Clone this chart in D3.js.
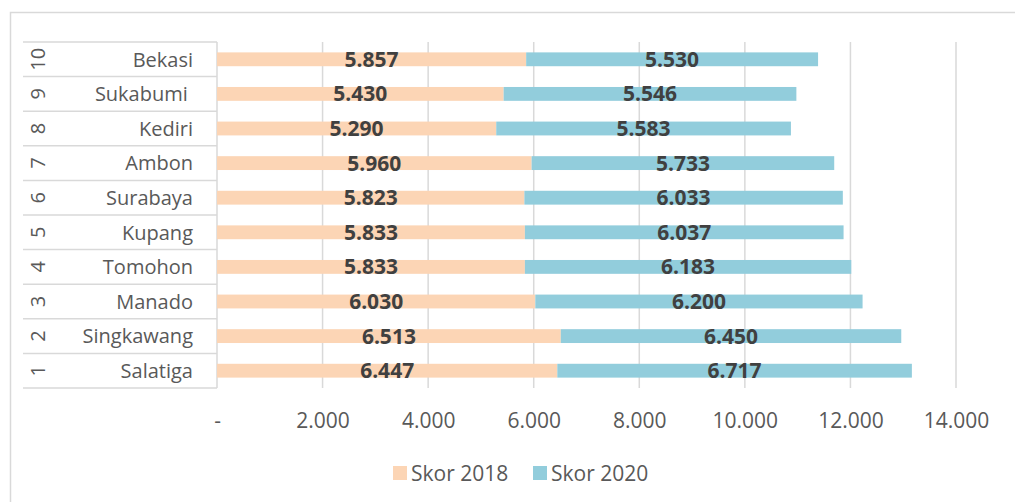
<!DOCTYPE html>
<html>
<head>
<meta charset="utf-8">
<script src="https://cdn.jsdelivr.net/npm/d3@7"></script>
<style>
  html, body { margin: 0; padding: 0; background: #fff; }
  text { font-family: "Open Sans", "Noto Sans", sans-serif; white-space: pre; }
</style>
</head>
<body>
<svg id="chart" width="1015" height="502"></svg>
<script>
const ranks = ["10", "9", "8", "7", "6", "5", "4", "3", "2", "1"];
const cities = ["Bekasi", "Sukabumi ", "Kediri", "Ambon", "Surabaya", "Kupang", "Tomohon", "Manado", "Singkawang", "Salatiga"];
const skor2018 = [5857, 5430, 5290, 5960, 5823, 5833, 5833, 6030, 6513, 6447];
const skor2020 = [5530, 5546, 5583, 5733, 6033, 6037, 6183, 6200, 6450, 6717];
const seriesNames = ["Skor 2018", "Skor 2020"];
const seriesColors = ["#FCD5B5", "#92CDDC"];
const xTicks = [0, 2000, 4000, 6000, 8000, 10000, 12000, 14000];

const svg = d3.select("#chart");
const idLocale = d3.formatLocale({ decimal: ",", thousands: ".", grouping: [3], currency: ["", ""] });
const fmt = idLocale.format(",.0f");
const tickFmt = v => v === 0 ? "-" : fmt(v);

// outer chart border
svg.append("rect").attr("x", 10.5).attr("y", 12.5).attr("width", 1020).attr("height", 500)
  .attr("fill", "none").attr("stroke", "#d9d9d9").attr("stroke-width", 1.5);

const x = d3.scaleLinear().domain([0, 14000]).range([217, 956]);
const y = d3.scaleBand().domain(cities).range([42, 388]).paddingInner(0.6).paddingOuter(0.3);
const rowStep = y.step();

// gridlines
svg.append("g").selectAll("line").data(xTicks.filter(d => d > 0)).join("line")
  .attr("x1", d => x(d)).attr("x2", d => x(d)).attr("y1", 42).attr("y2", 388)
  .attr("stroke", "#d9d9d9").attr("stroke-width", 1.5);

// category table (multi-level axis)
const table = svg.append("g");
const rowEdges = d3.range(cities.length + 1).map(i => 42 + i * rowStep);
table.selectAll("line.h").data(rowEdges).join("line")
  .attr("x1", 23).attr("x2", 217).attr("y1", d => d).attr("y2", d => d)
  .attr("stroke", "#d9d9d9").attr("stroke-width", 1.5);
table.append("line").attr("x1", 217).attr("x2", 217).attr("y1", 42).attr("y2", 388)
  .attr("stroke", "#d9d9d9").attr("stroke-width", 1.5);

const rowCenter = c => y(c) + y.bandwidth() / 2;
table.selectAll("text.city").data(cities).join("text")
  .attr("class", "city")
  .attr("x", 193).attr("y", d => rowCenter(d)).attr("dy", "0.36em")
  .attr("text-anchor", "end").attr("font-size", 20).attr("fill", "#595959")
  .text(d => d);
table.selectAll("text.rank").data(cities).join("text")
  .attr("class", "rank")
  .attr("transform", (d, i) => `translate(45,${rowCenter(d)}) rotate(-90)`)
  .attr("text-anchor", "middle").attr("font-size", 20).attr("fill", "#595959")
  .text((d, i) => ranks[i]);

// bars
const bars = svg.append("g");
bars.selectAll("rect.s18").data(cities).join("rect")
  .attr("x", x(0)).attr("y", d => y(d))
  .attr("width", (d, i) => x(skor2018[i]) - x(0)).attr("height", y.bandwidth())
  .attr("fill", seriesColors[0]);
bars.selectAll("rect.s20").data(cities).join("rect")
  .attr("class", "s20")
  .attr("x", (d, i) => x(skor2018[i])).attr("y", d => y(d))
  .attr("width", (d, i) => x(skor2018[i] + skor2020[i]) - x(skor2018[i])).attr("height", y.bandwidth())
  .attr("fill", seriesColors[1]);

// data labels
const labels = svg.append("g").attr("font-size", 21).attr("font-weight", "bold").attr("fill", "#404040").attr("text-anchor", "middle");
labels.selectAll("text.l18").data(cities).join("text")
  .attr("class", "l18")
  .attr("x", (d, i) => (x(0) + x(skor2018[i])) / 2).attr("y", d => rowCenter(d)).attr("dy", "0.36em")
  .text((d, i) => fmt(skor2018[i]));
labels.selectAll("text.l20").data(cities).join("text")
  .attr("class", "l20")
  .attr("x", (d, i) => (x(skor2018[i]) + x(skor2018[i] + skor2020[i])) / 2).attr("y", d => rowCenter(d)).attr("dy", "0.36em")
  .text((d, i) => fmt(skor2020[i]));

// x axis
const xAxis = d3.axisBottom(x).tickValues(xTicks).tickFormat(tickFmt).tickSize(0).tickPadding(0);
const gx = svg.append("g").attr("transform", "translate(0,420)").call(xAxis);
gx.select(".domain").remove();
gx.selectAll("text").attr("font-size", 21).attr("fill", "#595959")
  .attr("font-family", "'Open Sans', sans-serif").attr("dy", "0.36em").attr("y", 0);

// legend
const legendX = [393, 533];
const lg = svg.append("g");
seriesNames.forEach((n, i) => {
  lg.append("rect").attr("x", legendX[i]).attr("y", 466).attr("width", 14).attr("height", 14).attr("fill", seriesColors[i]);
  lg.append("text").attr("x", legendX[i] + 18).attr("y", 473).attr("dy", "0.36em")
    .attr("font-size", 21).attr("fill", "#595959").text(n);
});
</script>
</body>
</html>
